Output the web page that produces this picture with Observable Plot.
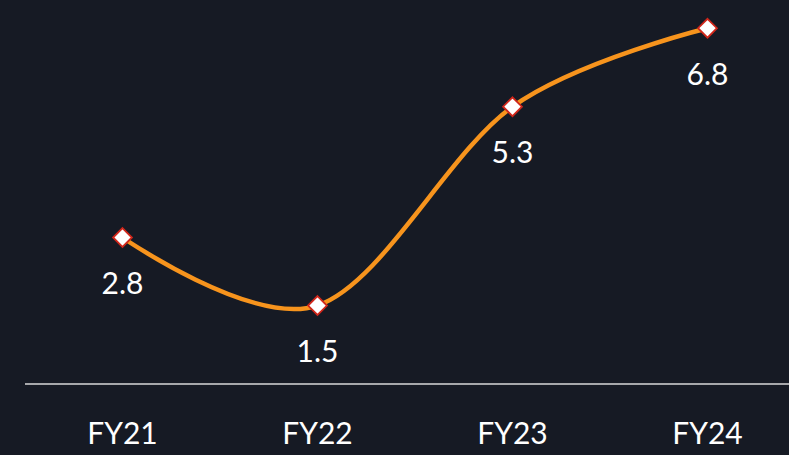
<!DOCTYPE html>
<html>
<head>
<meta charset="utf-8">
<script src="https://cdn.jsdelivr.net/npm/d3@7"></script>
<script src="https://cdn.jsdelivr.net/npm/@observablehq/plot@0.6"></script>
<style>
  html, body { margin: 0; padding: 0; background: #161a24; }
  #chart svg { display: block; }
</style>
</head>
<body>
<div id="chart"></div>
<script>
const categories = ["FY21", "FY22", "FY23", "FY24"];
const values = [2.8, 1.5, 5.3, 6.8];
const labels = ["2.8", "1.5", "5.3", "6.8"];

const data = categories.map((c, i) => ({cat: c, value: values[i], label: labels[i]}));

const chart = Plot.plot({
  width: 789,
  height: 455,
  marginTop: 0,
  marginLeft: 25,
  marginRight: 0,
  marginBottom: 71.5,
  style: {background: "#161a24", color: "#ffffff", fontFamily: "Lato, 'Open Sans', sans-serif"},
  x: {type: "point", domain: categories, range: [122, 707], padding: 0, axis: null},
  y: {domain: [0, 7.33], axis: null},
  marks: [
    Plot.ruleY([0], {stroke: "#d9d9d9", strokeWidth: 1.5}),
    Plot.line(data, {x: "cat", y: "value", curve: "cardinal", tension: 0, stroke: "#f7941d", strokeWidth: 4.5}),
    Plot.dot(data, {x: "cat", y: "value", symbol: "diamond2", r: 8.5, fill: "#ffffff", stroke: "#d0261a", strokeWidth: 1.8}),
    Plot.text(data, {x: "cat", y: "value", text: "label", dy: 47, fill: "#ffffff", fontSize: 30, lineAnchor: "middle"}),
    Plot.text(categories, {x: d => d, frameAnchor: "bottom", dy: 50, text: d => d, fill: "#ffffff", fontSize: 30, lineAnchor: "middle"})
  ]
});
document.getElementById("chart").appendChild(chart);
</script>
</body>
</html>
